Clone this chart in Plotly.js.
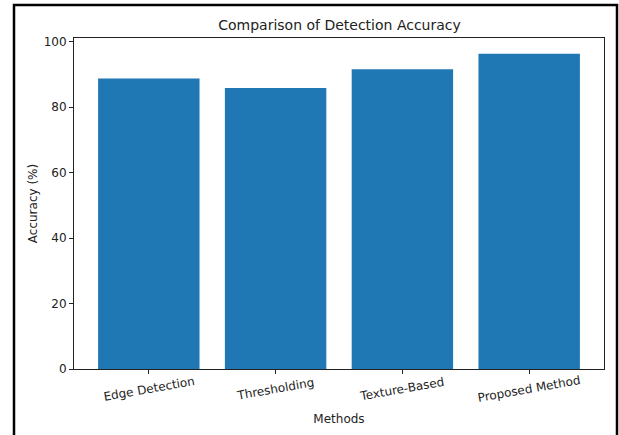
<!DOCTYPE html>
<html>
<head>
<meta charset="utf-8">
<script src="https://cdn.plot.ly/plotly-3.0.1.min.js"></script>
<style>
html,body{margin:0;padding:0;background:#fff;}
#chart{width:619px;height:435px;}
</style>
</head>
<body>
<div id="chart"></div>
<script>
const methods = ["Edge Detection", "Thresholding", "Texture-Based", "Proposed Method"];
const accuracy = [88.8, 85.9, 91.6, 96.3];
const yTicks = [0, 20, 40, 60, 80, 100];

const W = 619, H = 435;
const L = 74, R = 15, T = 38, B = 66;
const pw = W - L - R, ph = H - T - B;
const px = x => (x - L) / pw;
const py = y => (H - B - y) / ph;

const font = "DejaVu Sans, sans-serif";
const dark = "#222";
const axisCommon = {
  showline: true, linecolor: dark, linewidth: 1, mirror: true,
  ticks: "outside", ticklen: 4, tickwidth: 1, tickcolor: dark,
  showgrid: false, zeroline: false,
  tickfont: {family: font, size: 12, color: dark}
};

const data = [{
  type: "bar",
  x: methods,
  y: accuracy,
  marker: {color: "#1f77b4"},
  width: 0.8,
  hoverinfo: "x+y"
}];

// rotated category labels, centred under each tick (matplotlib style)
const tickAnnotations = methods.map(m => ({
  x: m, xref: "x", y: py(389), yref: "paper",
  text: m, textangle: -10, showarrow: false,
  xanchor: "center", yanchor: "middle",
  font: {family: font, size: 12, color: dark}
}));

const layout = {
  width: W, height: H,
  margin: {l: L, r: R, t: T, b: B, pad: 0},
  paper_bgcolor: "#fff", plot_bgcolor: "#fff",
  showlegend: false,
  title: {text: "Comparison of Detection Accuracy", font: {family: font, size: 14, color: dark},
          x: px(339.5), xref: "paper", xanchor: "center", y: 1 - 25 / H, yanchor: "middle"},
  xaxis: Object.assign({}, axisCommon, {
    range: [-0.59, 3.59], showticklabels: false,
    title: {text: "Methods", font: {family: font, size: 12, color: dark}, standoff: 41}
  }),
  yaxis: Object.assign({}, axisCommon, {
    range: [0, 101.15], tickvals: yTicks, ticktext: yTicks.map(String),
    title: {text: "Accuracy (%)", font: {family: font, size: 12, color: dark}, standoff: 3}
  }),
  annotations: tickAnnotations,
  shapes: [{
    type: "rect", xref: "paper", yref: "paper",
    x0: px(14), x1: px(617), y0: py(440), y1: py(5),
    line: {color: "#000", width: 2.5}, fillcolor: "rgba(0,0,0,0)", layer: "above"
  }]
};

Plotly.newPlot("chart", data, layout, {displayModeBar: false, staticPlot: true});
</script>
</body>
</html>
